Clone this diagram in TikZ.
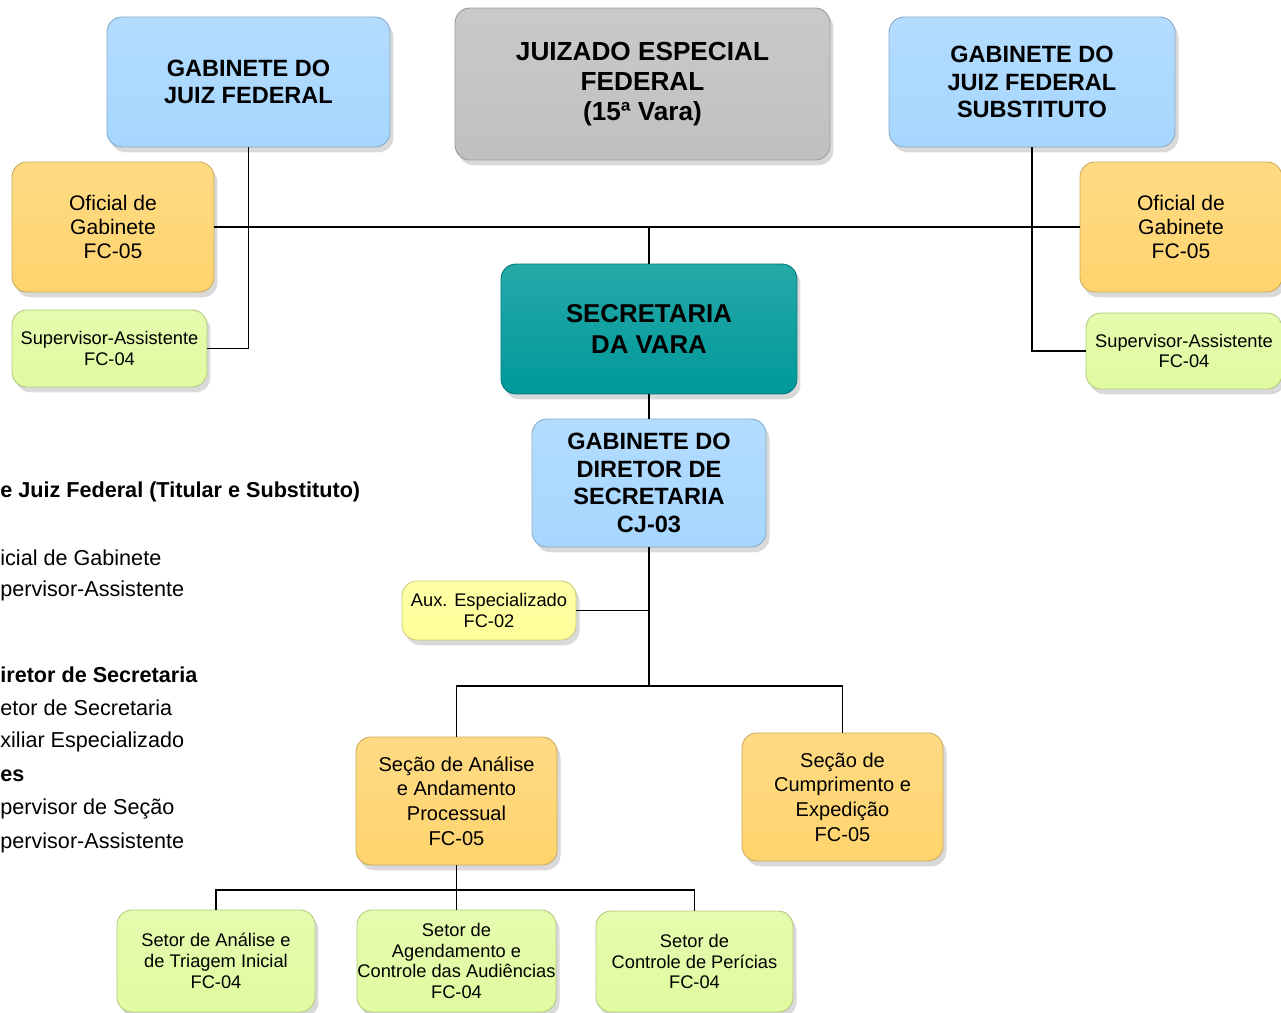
\documentclass[tikz,border=0pt]{standalone}
\usepackage{fontspec}
\setmainfont{Liberation Sans}
\usetikzlibrary{shadows}

\definecolor{azul}{RGB}{166,214,255}
\definecolor{cinza}{RGB}{192,192,192}
\definecolor{laranja}{RGB}{255,212,110}
\definecolor{verde}{RGB}{224,251,160}
\definecolor{petroleo}{RGB}{0,153,153}
\definecolor{amarelo}{RGB}{255,255,153}

\tikzset{
	caixa/.style={draw=#1!80!black, line width=0.5pt, top color=#1!85!white, bottom color=#1,
		rounded corners=0.3cm, align=center, inner sep=0pt,
		drop shadow={shadow xshift=2pt, shadow yshift=-3pt, opacity=0.3}},
	titulo/.style={font=\fontsize{13.4}{15.6}\selectfont\bfseries},
	cargo/.style={font=\fontsize{12}{13.9}\selectfont},
	setor/.style={font=\fontsize{10.4}{11.9}\selectfont},
	legenda/.style={anchor=west, inner sep=0pt, font=\fontsize{12.3}{14}\selectfont},
	linha/.style={line width=1.1pt}
}

\begin{document}
\begin{tikzpicture}[x=0.02cm, y=-0.02cm]
	
	\useasboundingbox (0,0) rectangle (1281,1013);
	
	% Top row
	\node[caixa=azul, titulo, minimum width=5.66cm, minimum height=2.6cm] (gabinete1) at (248.5,82) {GABINETE DO\\JUIZ FEDERAL};
	\node[caixa=cinza, font=\fontsize{14.9}{17}\selectfont\bfseries, minimum width=7.5cm, minimum height=3.04cm] (juizado) at (642.5,84) {JUIZADO ESPECIAL\\FEDERAL\\(15ª Vara)};
	\node[caixa=azul, titulo, minimum width=5.72cm, minimum height=2.6cm] (gabinete2) at (1032,82) {GABINETE DO\\JUIZ FEDERAL\\SUBSTITUTO};
	
	% Gabinete staff
	\node[caixa=laranja, cargo, minimum width=4.04cm, minimum height=2.6cm] (oficial1) at (113,227) {Oficial de\\Gabinete\\FC-05};
	\node[caixa=verde, setor, minimum width=3.9cm, minimum height=1.54cm] (supervisor1) at (109.5,348.5) {Supervisor-Assistente\\FC-04};
	\node[caixa=laranja, cargo, minimum width=4.04cm, minimum height=2.6cm] (oficial2) at (1181,227) {Oficial de\\Gabinete\\FC-05};
	\node[caixa=verde, setor, minimum width=3.92cm, minimum height=1.52cm] (supervisor2) at (1184,351) {Supervisor-Assistente\\FC-04};
	
	% Secretaria
	\node[caixa=petroleo, font=\fontsize{14.7}{17.6}\selectfont\bfseries, minimum width=5.92cm, minimum height=2.6cm] (secretaria) at (649,329) {SECRETARIA\\DA VARA};
	\node[caixa=azul, titulo, minimum width=4.68cm, minimum height=2.56cm] (diretor) at (649,483) {GABINETE DO\\DIRETOR DE\\SECRETARIA\\CJ-03};
	\node[caixa=amarelo, setor, minimum width=3.48cm, minimum height=1.18cm] (aux) at (489,610.5) {Aux. Especializado\\FC-02};
	
	% Secoes
	\node[caixa=laranja, font=\fontsize{11.4}{14}\selectfont, minimum width=4.02cm, minimum height=2.56cm] (secao1) at (456.5,801) {Seção de Análise\\e Andamento\\Processual\\FC-05};
	\node[caixa=laranja, font=\fontsize{11.4}{14}\selectfont, minimum width=4.02cm, minimum height=2.56cm] (secao2) at (842.5,797) {Seção de\\Cumprimento e\\Expedição\\FC-05};
	
	% Setores
	\node[caixa=verde, setor, minimum width=3.96cm, minimum height=2.04cm] (setor1) at (216,961) {Setor de Análise e\\de Triagem Inicial\\FC-04};
	\node[caixa=verde, setor, minimum width=3.98cm, minimum height=2.04cm] (setor2) at (456.5,961) {Setor de\\Agendamento e\\Controle das Audiências\\FC-04};
	\node[caixa=verde, setor, minimum width=3.94cm, minimum height=2.02cm] (setor3) at (694.5,961.5) {Setor de\\Controle de Perícias\\FC-04};
	
	% Legend (cut at the left edge)
	\node[legenda, font=\fontsize{12.3}{14}\selectfont\bfseries] (leg1) at (0,492) {e Juiz Federal (Titular e Substituto)};
	\node[legenda] (leg2) at (0,558) {icial de Gabinete};
	\node[legenda] (leg3) at (0,591) {pervisor-Assistente};
	\node[legenda, font=\fontsize{12.3}{14}\selectfont\bfseries] (leg4) at (0,675) {iretor de Secretaria};
	\node[legenda] (leg5) at (0,708) {etor de Secretaria};
	\node[legenda] (leg6) at (0,742) {xiliar Especializado};
	\node[legenda, font=\fontsize{12.3}{14}\selectfont\bfseries] (leg7) at (0,776) {es};
	\node[legenda] (leg8) at (0,809) {pervisor de Seção};
	\node[legenda] (leg9) at (0,843) {pervisor-Assistente};
	
	% Connectors
	\coordinate (meio) at (649,686);
	\coordinate (baixo) at (456.5,890);
	
	\draw[linha] (oficial1.east) -- (oficial2.west);
	\draw[linha] (gabinete1.south) |- (supervisor1.east);
	\draw[linha] (gabinete2.south) |- (supervisor2.west);
	\draw[linha] (secretaria.north) -- (secretaria.north |- oficial1.east);
	\draw[linha] (secretaria.south) -- (diretor.north);
	\draw[linha] (diretor.south) -- (meio);
	\draw[linha] (aux.east) -- (aux.east -| diretor.south);
	\draw[linha] (secao1.north) |- (meio) -| (secao2.north);
	\draw[linha] (secao1.south) -- (baixo);
	\draw[linha] (setor1.north) |- (baixo) -| (setor3.north);
	\draw[linha] (setor2.north) -- (baixo);
	
\end{tikzpicture}
\end{document}
